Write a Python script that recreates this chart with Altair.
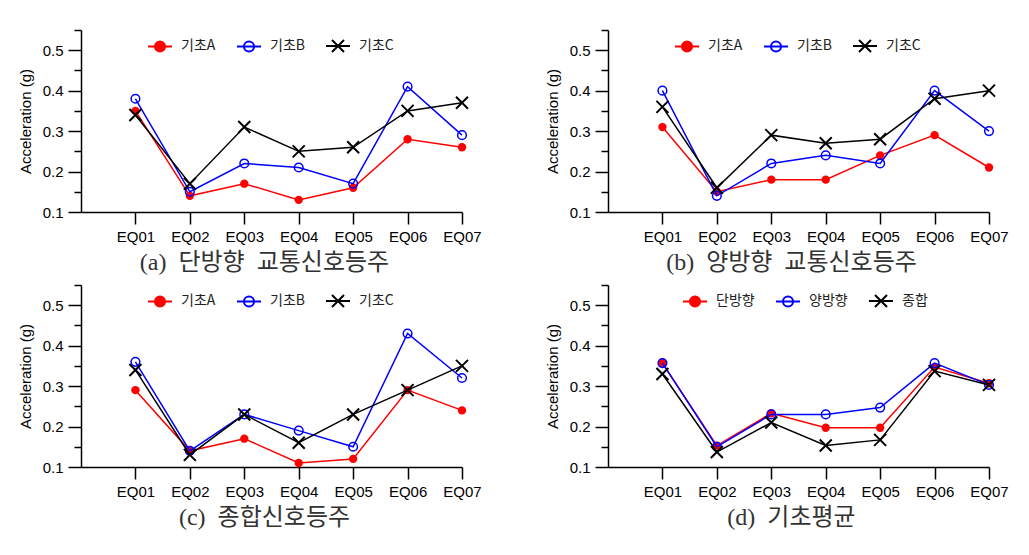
import altair as alt
import pandas as pd

categories = ["EQ01", "EQ02", "EQ03", "EQ04", "EQ05", "EQ06", "EQ07"]
series_abc = ["기초A", "기초B", "기초C"]
series_d = ["단방향", "양방향", "종합"]

# (a) single-direction signal pole
a_A = [0.35, 0.14, 0.17, 0.13, 0.16, 0.28, 0.26]
a_B = [0.38, 0.15, 0.22, 0.21, 0.17, 0.41, 0.29]
a_C = [0.34, 0.17, 0.31, 0.25, 0.26, 0.35, 0.37]
# (b) two-direction signal pole
b_A = [0.31, 0.15, 0.18, 0.18, 0.24, 0.29, 0.21]
b_B = [0.40, 0.14, 0.22, 0.24, 0.22, 0.40, 0.30]
b_C = [0.36, 0.16, 0.29, 0.27, 0.28, 0.38, 0.40]
# (c) combined signal pole
c_A = [0.29, 0.14, 0.17, 0.11, 0.12, 0.29, 0.24]
c_B = [0.36, 0.14, 0.23, 0.19, 0.15, 0.43, 0.32]
c_C = [0.34, 0.13, 0.23, 0.16, 0.23, 0.29, 0.35]
# (d) foundation average
d_1 = [0.357, 0.153, 0.233, 0.197, 0.197, 0.347, 0.307]
d_2 = [0.357, 0.150, 0.230, 0.230, 0.247, 0.357, 0.303]
d_3 = [0.330, 0.137, 0.210, 0.153, 0.167, 0.337, 0.303]

captions = [
    "(a)\u2002단방향\u2002교통신호등주",
    "(b)\u2002양방향\u2002교통신호등주",
    "(c)\u2002종합신호등주",
    "(d)\u2002기초평균",
]

y_major = [0.1, 0.2, 0.3, 0.4, 0.5]
y_minor = [0.15, 0.25, 0.35, 0.45, 0.55]

colors = ["#ff0000", "#0000ff", "#000000"]
X_PATH = "M-1,-1L1,1M-1,1L1,-1"
CIRC = "M-1,0H1M0.42,0A0.42,0.42,0,1,1,-0.42,0A0.42,0.42,0,1,1,0.42,0Z"
legend_paths = [CIRC, CIRC, "M-1,0H1M-0.5,-0.5L0.5,0.5M-0.5,0.5L0.5,-0.5"]
legend_fills = ["#ff0000", "transparent", "transparent"]

SANS = "Liberation Sans"
KFONT = "Noto Sans CJK KR"
CAPFONT = "Liberation Serif, Noto Sans CJK KR"

W, H = 381, 182


def panel(names, values, caption, legx):
    rows = []
    for name, vals in zip(names, values):
        for c, v in zip(categories, vals):
            rows.append({"cat": c, "val": v, "series": name})
    df = pd.DataFrame(rows)
    base = alt.Chart(df)

    xscale = alt.Scale(type="point", domain=[" "] + categories, padding=0)
    yscale = alt.Scale(domain=[0.1, 0.55], nice=False, zero=False)
    xenc = alt.X(
        "cat:N", scale=xscale, title=None,
        axis=alt.Axis(values=categories, labelAngle=0, tickSize=12, labelPadding=5,
                      labelFont=SANS, labelFontSize=15, labelColor="#000",
                      domainColor="#000", tickColor="#000", domainWidth=1.5, tickWidth=1.5,
                      grid=False),
    )
    yenc = alt.Y(
        "val:Q", scale=yscale,
        axis=alt.Axis(values=y_major, format=".1f", tickSize=13, labelPadding=5,
                      labelFont=SANS, labelFontSize=15, labelColor="#000",
                      title="Acceleration (g)", titleFont=SANS, titleFontSize=15,
                      titleFontWeight="normal", titleColor="#000", titlePadding=9,
                      domainColor="#000", tickColor="#000", domainWidth=1.5, tickWidth=1.5,
                      grid=False, orient="left"),
    )
    layers = []
    for i, name in enumerate(names):
        sub = base.transform_filter(alt.datum.series == name)
        layers.append(sub.mark_line(color=colors[i], strokeWidth=1.5).encode(x=xenc, y=yenc))
        if i == 0:
            pt = sub.mark_point(shape="circle", filled=True, color=colors[i], size=70, opacity=1)
        elif i == 1:
            pt = sub.mark_point(shape="circle", filled=False, color=colors[i], size=75,
                                strokeWidth=1.5, opacity=1)
        else:
            pt = sub.mark_point(shape=X_PATH, filled=False, color=colors[i], size=144,
                                strokeWidth=2, opacity=1)
        layers.append(pt.encode(x=xenc, y=yenc))

    leg = alt.Legend(title=None, orient="none", legendX=legx, legendY=3, direction="horizontal",
                     columns=3, labelFont=KFONT, labelFontSize=14, labelColor="#222",
                     labelOffset=8, columnPadding=17, symbolSize=576, symbolStrokeWidth=2)
    legend_layer = base.transform_filter("false").mark_point(opacity=1, strokeWidth=2).encode(
        x=xenc, y=yenc,
        shape=alt.Shape("series:N", scale=alt.Scale(domain=names, range=legend_paths), legend=leg),
        color=alt.Color("series:N", scale=alt.Scale(domain=names, range=colors), legend=leg),
        fill=alt.Fill("series:N", scale=alt.Scale(domain=names, range=legend_fills), legend=leg),
    )
    layers.append(legend_layer)

    minor = base.mark_point(opacity=0).encode(
        x=xenc,
        y=alt.Y("val:Q", scale=yscale,
                axis=alt.Axis(values=y_minor, tickSize=7, labels=False, domain=False, title=None,
                              tickColor="#000", tickWidth=1.5, grid=False, orient="left")),
    )
    inner = alt.layer(*layers)
    return alt.layer(inner, minor).resolve_axis(y="independent").properties(
        width=W, height=H,
        title=alt.TitleParams(text=caption, orient="bottom", font=CAPFONT, fontSize=24,
                              fontWeight="normal", color="#333", offset=7, dx=-7),
    )


pa = panel(series_abc, [a_A, a_B, a_C], captions[0], 66)
pb = panel(series_abc, [b_A, b_B, b_C], captions[1], 66)
pc = panel(series_abc, [c_A, c_B, c_C], captions[2], 66)
pd_ = panel(series_d, [d_1, d_2, d_3], captions[3], 74)

chart = alt.concat(pa, pb, pc, pd_, columns=2,
                   spacing=alt.RowColnumber(row=73, column=146), bounds="flush").resolve_scale(
    color="independent", shape="independent", fill="independent"
).configure_view(
    stroke=None
).properties(padding={"left": 10, "top": 21, "right": 5, "bottom": 5})

chart.save("out.html", embed_options={"renderer": "svg", "actions": False})
